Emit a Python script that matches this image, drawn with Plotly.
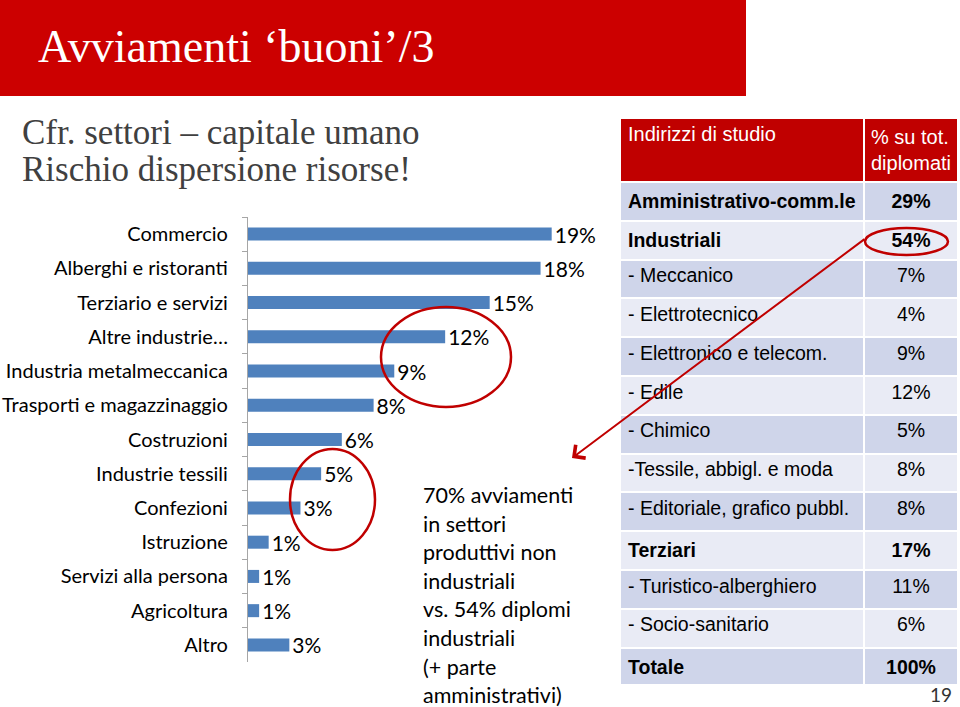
import plotly.graph_objects as go

W, H = 960, 707

# ---- data ----
categories = ["Commercio", "Alberghi e ristoranti", "Terziario e servizi", "Altre industrie…",
              "Industria metalmeccanica", "Trasporti e magazzinaggio", "Costruzioni",
              "Industrie tessili", "Confezioni", "Istruzione", "Servizi alla persona",
              "Agricoltura", "Altro"]
shares = [19.1, 18.4, 15.2, 12.4, 9.2, 7.9, 5.9, 4.6, 3.3, 1.3, 0.7, 0.7, 2.6]

table_rows = ["Amministrativo-comm.le", "Industriali", "- Meccanico", "- Elettrotecnico",
              "- Elettronico e telecom.", "- Edile", "- Chimico", "-Tessile, abbigl. e moda",
              "- Editoriale, grafico pubbl.", "Terziari", "- Turistico-alberghiero",
              "- Socio-sanitario", "Totale"]
table_pct = [29, 54, 7, 4, 9, 12, 5, 8, 8, 17, 11, 6, 100]
bold_rows = {0, 1, 9, 12}

title = "Avviamenti ‘buoni’/3"
subtitle = ["Cfr. settori – capitale umano", "Rischio dispersione risorse!"]
note = ["70% avviamenti", "in settori", "produttivi non", "industriali",
        "vs. 54% diplomi", "industriali", "(+ parte", "amministrativi)"]

def px(x):
    return x / W

def py(y):
    return 1 - y / H

SANS = "Lato, 'Open Sans', sans-serif"
NARROW = "'Liberation Sans', Arial, sans-serif"
SERIF = "'Liberation Serif', 'DejaVu Serif', serif"
RED = "#C00000"

fig = go.Figure()

fig.add_trace(go.Bar(
    y=categories, x=shares, orientation="h",
    marker=dict(color="#4F81BD", line=dict(width=0)),
    texttemplate="%{x:.0f}%", textposition="outside", constraintext="none",
    textfont=dict(family=SANS, size=21, color="#000000"),
    cliponaxis=False, hoverinfo="skip",
))

# table
row_colors = ["#CFD5EA" if i % 2 == 0 else "#E9EBF5" for i in range(len(table_rows))]
col1 = [f"<b>{r}</b>" if i in bold_rows else r for i, r in enumerate(table_rows)]
col2 = [f"<b>{p}%</b>" if i in bold_rows else f"{p}%" for i, p in enumerate(table_pct)]

fig.add_trace(go.Table(
    domain=dict(x=[px(620), px(958)], y=[py(684), py(118)]),
    columnwidth=[244, 94],
    header=dict(values=["Indirizzi di studio", "% su tot.<br>diplomati"],
                fill_color=RED, align=["left", "center"], height=58,
                line=dict(color="white", width=2),
                font=dict(family=NARROW, size=20, color="white")),
    cells=dict(values=[col1, col2], fill_color=[row_colors, row_colors],
               align=["left", "center"], height=38.8,
               line=dict(color="white", width=2),
               font=dict(family=NARROW, size=19.5, color="#000000")),
))

shapes = [
    dict(type="rect", xref="paper", yref="paper", x0=0, x1=px(746), y0=py(96), y1=1,
         fillcolor="#CC0000", line=dict(width=0), layer="below"),
    dict(type="circle", xref="paper", yref="paper", x0=px(381), x1=px(511), y0=py(407), y1=py(307),
         line=dict(color=RED, width=2.5)),
    dict(type="circle", xref="paper", yref="paper", x0=px(290), x1=px(375), y0=py(550), y1=py(449),
         line=dict(color=RED, width=2.5)),
    dict(type="circle", xref="paper", yref="paper", x0=px(865), x1=px(948), y0=py(255), y1=py(228),
         line=dict(color=RED, width=2.5)),
]

annotations = [
    dict(text=title, xref="paper", yref="paper", x=px(36), y=py(47), xanchor="left", yanchor="middle",
         showarrow=False, font=dict(family=SERIF, size=46, color="white")),
    dict(text=subtitle[0], xref="paper", yref="paper", x=px(20), y=py(133), xanchor="left",
         yanchor="middle", showarrow=False, font=dict(family=SERIF, size=35, color="#404040")),
    dict(text=subtitle[1], xref="paper", yref="paper", x=px(20), y=py(170), xanchor="left",
         yanchor="middle", showarrow=False, font=dict(family=SERIF, size=35, color="#404040")),
    dict(text="", xref="paper", yref="paper", x=px(572), y=py(458), ax=294, ay=-220,
         showarrow=True, arrowhead=4, arrowsize=1.6, arrowwidth=2, arrowcolor=RED, standoff=0),
    dict(text="19", xref="paper", yref="paper", x=px(941), y=py(694), xanchor="center",
         yanchor="middle", showarrow=False, font=dict(family=SANS, size=19, color="#333333")),
]
for i, line in enumerate(note):
    annotations.append(dict(text=line, xref="paper", yref="paper", x=px(421), y=py(495 + i * 28.6),
                            xanchor="left", yanchor="middle", showarrow=False,
                            font=dict(family=SANS, size=21.5, color="#000000")))

fig.update_layout(
    width=W, height=H, margin=dict(l=0, r=0, t=0, b=0),
    paper_bgcolor="white", plot_bgcolor="white", showlegend=False,
    bargap=0.62,
    xaxis=dict(domain=[px(248), px(620)], range=[0, (620 - 248) / 15.9], visible=False),
    yaxis=dict(domain=[py(662), py(217)], type="category", categoryorder="array",
               categoryarray=categories, autorange="reversed",
               showline=True, linecolor="#A6A6A6", linewidth=1.2,
               ticks="outside", tickson="boundaries", ticklen=5, tickcolor="#A6A6A6",
               ticklabelstandoff=15, showgrid=False,
               tickfont=dict(family=SANS, size=20, color="#000000")),
    shapes=shapes, annotations=annotations,
)

fig.write_html("out.html")
